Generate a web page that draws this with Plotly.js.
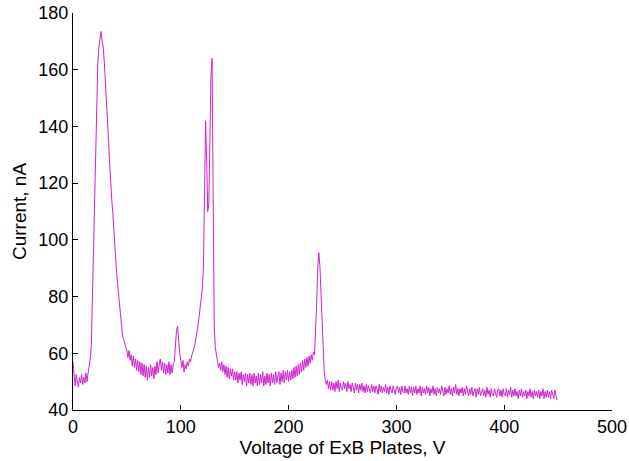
<!DOCTYPE html>
<html>
<head>
<meta charset="utf-8">
<script src="https://cdn.plot.ly/plotly-3.0.1.min.js"></script>
<style>html,body{margin:0;padding:0;background:#fff;}#chart{width:629px;height:461px;}</style>
</head>
<body>
<div id="chart"></div>
<script>
// Current (nA) sampled every 1 V from 0 V to 449 V
const current = [
  57, 50.5, 48.5, 52.5, 49.5, 48, 51.5, 49.5, 52.5, 49,
  51.5, 49.5, 53, 50, 53, 55, 58, 63, 80, 100,
  120, 131, 152, 162, 168, 172, 173.5, 170, 168, 163,
  157, 149, 142, 135, 127, 119, 114, 109, 102, 96,
  91, 86, 82, 78, 74, 69, 66, 65, 63, 62,
  61, 58.5, 61, 57.5, 59.5, 55.5, 59, 55, 58, 54,
  57.5, 53.5, 57, 52.5, 56.5, 52, 56, 51.5, 55.5, 50.5,
  55, 51.5, 56, 52, 55, 51, 55.5, 52.5, 57, 53,
  56, 58, 54, 57, 53, 56.5, 52.5, 56, 53, 57,
  52.5, 56, 53, 56.5, 57, 62, 68, 69.5, 64, 60,
  57.5, 55, 57.5, 53.5, 56, 54.5, 57, 55.5, 58, 57,
  59, 60, 61.5, 63, 65, 67.5, 70, 73, 76.5, 80,
  83, 90, 120, 142, 128, 110, 113, 140, 158, 164,
  98, 70, 62, 59, 57.5, 55, 56.5, 54, 57, 53.5,
  56, 52.5, 55.5, 51.5, 55, 51, 54.5, 52, 54.5, 50.5,
  53.5, 50.5, 53.5, 49.5, 53, 50.5, 53.5, 49, 52.5, 50,
  53, 48.5, 52.5, 49.5, 53, 49, 52.5, 48.5, 53, 49.5,
  52, 48.5, 53, 49, 52.5, 49.5, 53.5, 48.5, 52, 49,
  53, 49.5, 52.5, 48.5, 53, 49.5, 52.5, 49, 53.5, 49.5,
  52, 53.5, 49, 53, 50, 54, 49.5, 53.5, 50.5, 54,
  50, 53.5, 50.5, 54, 51, 55, 51.5, 55.5, 52, 56,
  52.5, 56.5, 53.5, 57.5, 54, 58, 55, 58.5, 55.5, 59,
  56.5, 59.5, 57.5, 60.5, 59.5, 66, 77, 90, 95.5, 91,
  80, 70, 61, 54, 50.5, 49, 50.5, 47.5, 50, 47,
  50, 47, 49.5, 46.5, 50, 47.5, 50.5, 46.5, 49.5, 47.5,
  47, 50, 47.5, 49.5, 46.5, 50, 47.5, 49, 46.5, 49.5,
  48, 46, 49.5, 47, 49, 46, 49, 47, 49.5, 46.5,
  48.5, 46, 49, 46.5, 48.5, 47.5, 46, 49, 46.5, 48.5,
  46, 48.5, 47.5, 45.5, 49, 46.5, 48.5, 46, 48, 46.5,
  49, 46, 48, 45.5, 48.5, 47, 46, 48.5, 46.5, 45.5,
  48, 48.5, 46, 48, 45.5, 48.5, 46.5, 46, 48.5, 46,
  47.5, 45.5, 48.5, 46, 48, 45, 48, 46, 48.5, 45.5,
  47.5, 46, 48.5, 45, 48, 46, 47.5, 45.5, 48.5, 46,
  48, 45, 47.5, 46, 48.5, 45.5, 47.5, 45, 48, 46,
  47.5, 45.5, 48.5, 46, 45, 48, 45.5, 47.5, 46, 48.5,
  45.5, 47.5, 45, 48, 46, 49, 45.5, 47.5, 45, 47.5,
  46, 48, 45, 47.5, 45.5, 48.5, 46, 45, 47.5, 45.5,
  48, 45, 46.5, 47.5, 44.5, 47.5, 45.5, 48, 45, 46.5,
  47.5, 45, 47, 44.5, 48, 45.5, 47, 44.5, 47.5, 45.5,
  45, 47.5, 45.5, 44.5, 47, 47.5, 45, 47, 44.5, 47.5,
  45.5, 45, 47.5, 44.5, 47, 45.5, 48, 44.5, 47, 45,
  47.5, 45, 46.5, 44, 47, 45, 47.5, 44.5, 46.5, 45,
  47, 44, 46.5, 45, 47.5, 44.5, 46.5, 44, 47, 45,
  46.5, 44.5, 47, 44, 46.5, 45, 47.5, 44, 46.5, 44.5,
  47, 44.5, 46.5, 44, 47, 45, 44, 47, 44.5, 43.5
];
const voltageStart = 0;   // V
const voltageStep = 1;    // V per sample
const voltage = current.map((_, i) => voltageStart + i * voltageStep);

const xTicks = [0, 100, 200, 300, 400, 500];
const yTicks = [40, 60, 80, 100, 120, 140, 160, 180];

const font = {family: 'Liberation Sans, Arial, sans-serif', color: '#000'};

Plotly.newPlot('chart', [{
  x: voltage,
  y: current,
  type: 'scatter',
  mode: 'lines',
  line: {color: 'rgb(208,32,208)', width: 1},
  hoverinfo: 'skip'
}], {
  width: 629,
  height: 461,
  margin: {l: 73, r: 17, t: 13, b: 51},
  paper_bgcolor: '#fff',
  plot_bgcolor: '#fff',
  showlegend: false,
  font: Object.assign({size: 18}, font),
  xaxis: {
    range: [0, 500],
    tickvals: xTicks,
    ticktext: xTicks.map(String),
    ticks: 'inside',
    ticklen: 5,
    tickcolor: '#000',
    showline: true,
    linecolor: '#000',
    linewidth: 1,
    showgrid: false,
    zeroline: false,
    tickfont: Object.assign({size: 18}, font),
    title: {text: 'Voltage of ExB Plates, V', font: Object.assign({size: 19}, font), standoff: 4}
  },
  yaxis: {
    range: [40, 180],
    tickvals: yTicks,
    ticktext: yTicks.map(String),
    ticks: 'inside',
    ticklen: 5,
    tickcolor: '#000',
    showline: true,
    linecolor: '#000',
    linewidth: 1,
    showgrid: false,
    zeroline: false,
    tickfont: Object.assign({size: 18}, font),
    title: {text: 'Current, nA', font: Object.assign({size: 19}, font), standoff: 6}
  }
}, {staticPlot: true, displayModeBar: false});
</script>
</body>
</html>
